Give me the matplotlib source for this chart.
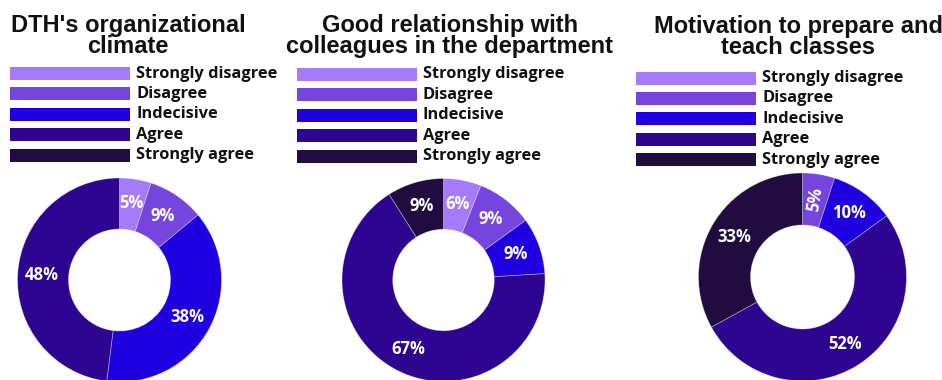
"""Three donut charts of teacher survey answers, each with its own title and legend."""
import matplotlib.pyplot as plt
import numpy as np

W, H = 942, 380

categories = ["Strongly disagree", "Disagree", "Indecisive", "Agree", "Strongly agree"]
colors = ["#A57BF9", "#7645DD", "#1E00E0", "#2E0590", "#210B3F"]

titles = [
    ("DTH's organizational", "climate"),
    ("Good relationship with", "colleagues in the department"),
    ("Motivation to prepare and", "teach classes"),
]

# percent of answers per category, in the order of `categories`
climate = [5, 9, 38, 48, 0]
colleagues = [6, 9, 9, 67, 9]
motivation = [0, 5, 10, 52, 33]
series = [climate, colleagues, motivation]

# labels drawn along the radius instead of horizontally
radial = [[], [], ["Disagree"]]

# layout in pixels: donut centre/radius, legend bar left edge, legend top row, title centre
donut_geom = [(119.5, 280, 102), (443.5, 280, 101.5), (802.5, 277, 104)]
legend_x = [10, 297, 636]
legend_y0 = [73.5, 74.5, 78]
title_x = [128, 450, 798]
title_y = [32, 32, 33]
ROW = 20.4
BAR_W, BAR_H = 120, 13

fig = plt.figure(figsize=(W / 100, H / 100), dpi=100)
fig.patch.set_facecolor("white")

# overlay axes in pixel coordinates for titles and legends
ov = fig.add_axes([0, 0, 1, 1])
ov.set_xlim(0, W)
ov.set_ylim(H, 0)
ov.axis("off")

for i, vals in enumerate(series):
    # title, two lines
    l1, l2 = titles[i]
    for k, line in enumerate((l1, l2)):
        ov.text(title_x[i], title_y[i] + k * 21, line, ha="center", va="baseline",
                fontsize=17, fontweight="bold", family="Liberation Sans", color="#111111")

    # legend: coloured bars with category names
    ys = legend_y0[i] + ROW * np.arange(len(categories))
    ov.barh(ys, BAR_W, height=BAR_H, left=legend_x[i], color=colors)
    for y, cat in zip(ys, categories):
        ov.text(legend_x[i] + BAR_W + 6, y, cat, ha="left", va="center",
                fontsize=11.8, fontweight="bold", family="Open Sans", color="#111111")

    # donut
    cx, cy, r = donut_geom[i]
    ax = fig.add_axes([(cx - r) / W, (H - cy - r) / H, 2 * r / W, 2 * r / H])
    keep = [j for j, v in enumerate(vals) if v > 0]
    v = [vals[j] for j in keep]
    c = [colors[j] for j in keep]
    wedges, _ = ax.pie(v, colors=c, startangle=90, counterclock=False, radius=1,
                       wedgeprops=dict(width=0.5, edgecolor=(1, 1, 1, 0.35), linewidth=0.6))
    ax.set_xlim(-1, 1)
    ax.set_ylim(-1, 1)
    ax.set_aspect("equal")
    ax.axis("off")
    for w, j, val in zip(wedges, keep, v):
        mid = np.deg2rad((w.theta1 + w.theta2) / 2)
        x, y = 0.76 * np.cos(mid), 0.76 * np.sin(mid)
        rot = 0
        if categories[j] in radial[i]:
            rot = np.rad2deg(mid)
            rot = rot if rot <= 90 else rot - 180
        ax.text(x, y, f"{val}%", ha="center", va="center", rotation=rot,
                rotation_mode="anchor", fontsize=12, fontweight="bold",
                family="Open Sans", color="white")

fig.savefig("out.png", dpi=100, facecolor="white")
